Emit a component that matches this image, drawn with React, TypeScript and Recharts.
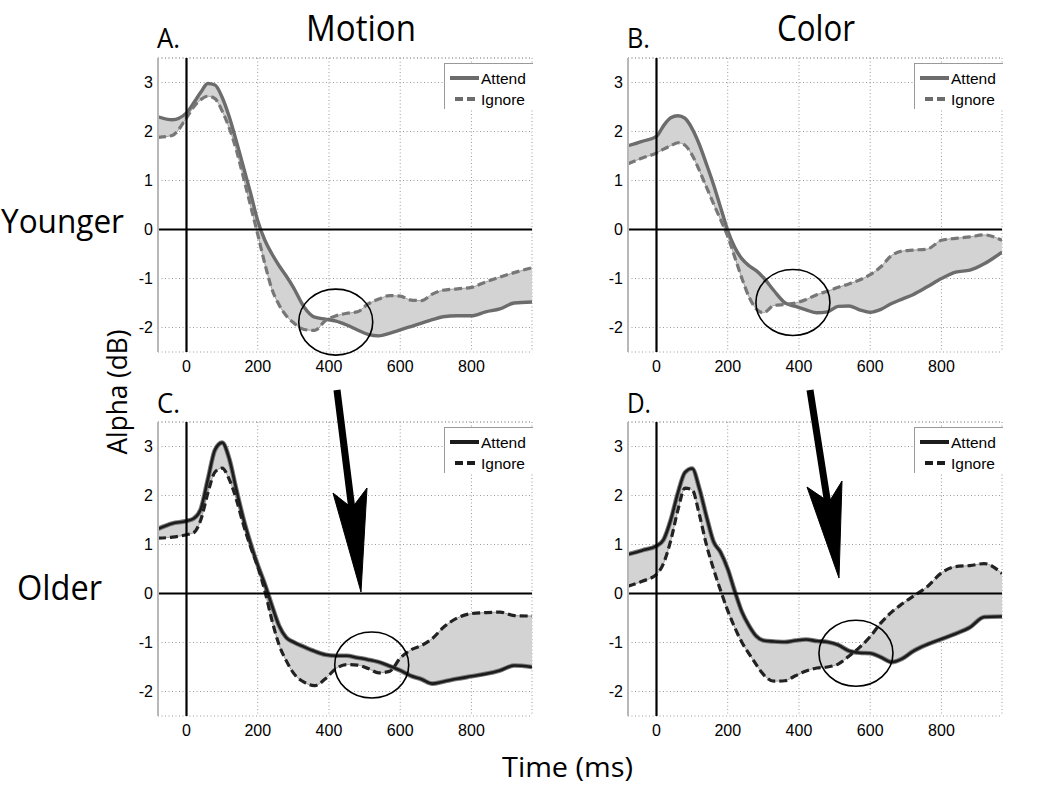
import React from "react";
import {
  ComposedChart, Line, Area, XAxis, YAxis, CartesianGrid,
  ReferenceLine, ReferenceDot, Legend,
} from "recharts";

// sample times (ms) shared by every panel
const times = [
  -80, -40, 0, 20, 40, 60, 80, 100, 120, 140, 160, 180, 200, 220, 240, 260, 280, 300, 330,
  360, 390, 420, 450, 480, 510, 540, 570, 600, 630, 660, 690, 720, 760, 800, 840, 880, 920, 970,
];

// A. younger / motion
const youngMotionAttend = [
  2.30, 2.24, 2.38, 2.58, 2.80, 2.98, 2.95, 2.70, 2.30, 1.80, 1.27, 0.74, 0.18, -0.22, -0.50, -0.74, -0.95, -1.18, -1.58,
  -1.79, -1.83, -1.87, -1.95, -2.05, -2.14, -2.17, -2.12, -2.05, -1.98, -1.91, -1.84, -1.78, -1.76, -1.76, -1.68, -1.62, -1.50, -1.48,
];
const youngMotionIgnore = [
  1.88, 1.92, 2.28, 2.50, 2.65, 2.72, 2.67, 2.42, 2.07, 1.62, 1.06, 0.48, -0.10, -0.70, -1.22, -1.54, -1.76, -1.90, -2.04,
  -2.06, -1.86, -1.76, -1.71, -1.68, -1.52, -1.42, -1.35, -1.36, -1.44, -1.45, -1.32, -1.24, -1.21, -1.18, -1.07, -0.97, -0.88, -0.78,
];

// B. younger / color
const youngColorAttend = [
  1.71, 1.80, 1.90, 2.12, 2.28, 2.32, 2.27, 2.06, 1.74, 1.34, 0.92, 0.45, -0.02, -0.37, -0.60, -0.74, -0.84, -0.98, -1.25,
  -1.49, -1.57, -1.64, -1.70, -1.68, -1.57, -1.56, -1.64, -1.69, -1.63, -1.51, -1.42, -1.33, -1.17, -1.00, -0.87, -0.83, -0.70, -0.46,
];
const youngColorIgnore = [
  1.34, 1.46, 1.56, 1.64, 1.71, 1.77, 1.72, 1.52, 1.21, 0.87, 0.53, 0.20, -0.14, -0.57, -1.00, -1.38, -1.62, -1.70, -1.55,
  -1.53, -1.50, -1.43, -1.33, -1.26, -1.18, -1.11, -1.03, -0.92, -0.76, -0.53, -0.44, -0.42, -0.40, -0.22, -0.18, -0.15, -0.11, -0.22,
];

// C. older / motion
const oldMotionAttend = [
  1.32, 1.43, 1.48, 1.53, 1.72, 2.33, 2.93, 3.08, 2.75, 2.12, 1.52, 1.02, 0.58, 0.19, -0.25, -0.66, -0.90, -0.99, -1.09,
  -1.18, -1.25, -1.27, -1.27, -1.31, -1.35, -1.40, -1.48, -1.57, -1.68, -1.75, -1.84, -1.80, -1.74, -1.69, -1.64, -1.57, -1.47, -1.50,
];
const oldMotionIgnore = [
  1.13, 1.15, 1.20, 1.24, 1.50, 2.05, 2.48, 2.56, 2.33, 1.92, 1.40, 0.95, 0.55, 0.05, -0.55, -1.05, -1.37, -1.62, -1.81,
  -1.88, -1.74, -1.53, -1.45, -1.46, -1.53, -1.62, -1.59, -1.32, -1.15, -1.06, -0.92, -0.70, -0.50, -0.41, -0.39, -0.38, -0.45, -0.46,
];

// D. older / color
const oldColorAttend = [
  0.80, 0.88, 0.97, 1.10, 1.50, 2.05, 2.47, 2.55, 2.15, 1.58, 1.06, 0.84, 0.50, 0.04, -0.38, -0.66, -0.87, -0.96, -0.98,
  -0.99, -0.96, -0.94, -0.97, -0.99, -1.05, -1.17, -1.21, -1.22, -1.30, -1.40, -1.33, -1.18, -1.04, -0.93, -0.82, -0.69, -0.48, -0.47,
];
const oldColorIgnore = [
  0.15, 0.25, 0.39, 0.62, 1.08, 1.70, 2.15, 2.12, 1.62, 1.00, 0.50, 0.06, -0.35, -0.70, -1.00, -1.23, -1.45, -1.65, -1.79,
  -1.78, -1.68, -1.58, -1.52, -1.50, -1.44, -1.28, -1.10, -0.88, -0.60, -0.38, -0.21, -0.06, 0.14, 0.42, 0.55, 0.57, 0.61, 0.41,
];

const xTicks = [0, 200, 400, 600, 800];
const yTicks = [-2, -1, 0, 1, 2, 3];
const xDomain = [-80, 970];
const yDomain = [-2.5, 3.5];

const tickFont = { fontFamily: "Liberation Sans, Arial", fontSize: 16, fill: "#000" };
const titleFont = "Open Sans, Noto Sans, sans-serif";

function buildRows(attend: number[], ignore: number[]) {
  return times.map((t, i) => ({ t, attend: attend[i], ignore: ignore[i], band: [ignore[i], attend[i]] }));
}

function PanelLegend({ color }: { color: string }) {
  return (
    <div style={{ width: 88, height: 45, borderLeft: "1px solid #9a9a9a", borderTop: "1px solid #9a9a9a", background: "#fff" }}>
      <svg width={88} height={45} style={{ display: "block" }}>
        <line x1={5} x2={34} y1={14} y2={14} stroke={color} strokeWidth={4} />
        <text x={36} y={19.5} fontFamily="Liberation Sans, Arial" fontSize={15.5} fill="#000">Attend</text>
        <line x1={10} x2={34} y1={35} y2={35} stroke={color} strokeWidth={4} strokeDasharray="8 4" />
        <text x={36} y={40.5} fontFamily="Liberation Sans, Arial" fontSize={15.5} fill="#000">Ignore</text>
      </svg>
    </div>
  );
}

interface PanelProps {
  attend: number[];
  ignore: number[];
  dark: boolean;
  circle: { x: number; y: number };
  left: number;
  top: number;
}

function Panel({ attend, ignore, dark, circle, left, top }: PanelProps) {
  const data = buildRows(attend, ignore);
  const lineColor = dark ? "#1c1c1c" : "#6c6c6c";
  return (
    <div style={{ position: "absolute", left, top }}>
      <ComposedChart width={410} height={326} data={data} margin={{ top: 2, right: 4, left: 0, bottom: 0 }}>
        <CartesianGrid stroke="#9a9a9a" strokeDasharray="1 2.5" />
        <XAxis
          type="number"
          dataKey="t"
          domain={xDomain}
          ticks={xTicks}
          allowDataOverflow
          axisLine={false}
          tickLine={false}
          tickSize={0}
          tickMargin={9}
          height={30}
          tick={tickFont}
        />
        <YAxis
          type="number"
          domain={yDomain}
          ticks={yTicks}
          allowDataOverflow
          axisLine={{ stroke: "#b8b8b8", strokeWidth: 2 }}
          tickLine={false}
          tickSize={0}
          tickMargin={5}
          width={32}
          tick={tickFont}
        />
        <ReferenceLine y={3.5} stroke="#9a9a9a" strokeDasharray="1 2.5" />
        <Area
          dataKey="band"
          type="monotone"
          fill="#d3d3d3"
          fillOpacity={1}
          stroke="#8c8c8c"
          strokeWidth={0.8}
          isAnimationActive={false}
        />
        {dark && (
          <Line dataKey="attend" type="monotone" stroke="#7a7a7a" strokeWidth={4.6} dot={false} activeDot={false} isAnimationActive={false} legendType="none" />
        )}
        <Line
          dataKey="attend"
          type="monotone"
          stroke={lineColor}
          strokeWidth={dark ? 2.6 : 3.4}
          dot={false}
          activeDot={false}
          isAnimationActive={false}
        />
        <Line
          dataKey="ignore"
          type="monotone"
          stroke={dark ? "#222" : "#777"}
          strokeWidth={3.2}
          strokeDasharray="8 4"
          dot={false}
          activeDot={false}
          isAnimationActive={false}
        />
        <ReferenceLine y={0} stroke="#000" strokeWidth={2} />
        <ReferenceLine x={0} stroke="#000" strokeWidth={2.2} />
        <ReferenceDot
          x={circle.x}
          y={circle.y}
          r={35}
          shape={(p: any) => (
            <ellipse cx={p.cx} cy={p.cy} rx={37} ry={33} fill="none" stroke="#000" strokeWidth={1.6} />
          )}
        />
        <Legend
          layout="horizontal"
          verticalAlign="middle"
          align="center"
          content={() => <PanelLegend color={dark ? "#1c1c1c" : "#6c6c6c"} />}
          wrapperStyle={{ top: 7, right: 4, left: "auto", width: 88, height: 45 }}
        />
      </ComposedChart>
    </div>
  );
}

export default function App() {
  return (
    <div style={{ position: "absolute", left: 0, top: 0, width: 1050, height: 788, background: "#fff", overflow: "hidden" }}>
      <Panel attend={youngMotionAttend} ignore={youngMotionIgnore} dark={false} circle={{ x: 419, y: -1.89 }} left={126} top={56} />
      <Panel attend={youngColorAttend} ignore={youngColorIgnore} dark={false} circle={{ x: 383, y: -1.49 }} left={596} top={56} />
      <Panel attend={oldMotionAttend} ignore={oldMotionIgnore} dark={true} circle={{ x: 520, y: -1.46 }} left={126} top={420} />
      <Panel attend={oldColorAttend} ignore={oldColorIgnore} dark={true} circle={{ x: 560, y: -1.22 }} left={596} top={420} />

      <svg width={1050} height={788} style={{ position: "absolute", left: 0, top: 0, pointerEvents: "none" }}>
        <g fontFamily={titleFont} fill="#000">
          <text x={306} y={41} fontSize={36} textLength={110} lengthAdjust="spacingAndGlyphs">Motion</text>
          <text x={777} y={41} fontSize={36} textLength={78} lengthAdjust="spacingAndGlyphs">Color</text>
          <text x={157} y={48} fontSize={28} textLength={23} lengthAdjust="spacingAndGlyphs">A.</text>
          <text x={627} y={48} fontSize={28} textLength={23} lengthAdjust="spacingAndGlyphs">B.</text>
          <text x={157} y={413} fontSize={28} textLength={23} lengthAdjust="spacingAndGlyphs">C.</text>
          <text x={627} y={413} fontSize={28} textLength={24} lengthAdjust="spacingAndGlyphs">D.</text>
          <text x={1} y={233} fontSize={33} textLength={123} lengthAdjust="spacingAndGlyphs">Younger</text>
          <text x={17} y={600} fontSize={34} textLength={85} lengthAdjust="spacingAndGlyphs">Older</text>
          <text x={502} y={777} fontSize={28} textLength={131} lengthAdjust="spacingAndGlyphs">Time (ms)</text>
          <text
            x={127}
            y={392}
            fontSize={28}
            textAnchor="middle"
            textLength={125}
            lengthAdjust="spacingAndGlyphs"
            transform="rotate(-90 127 392)"
          >
            Alpha (dB)
          </text>
        </g>
        <g fill="#000" stroke="#000">
          <line x1={337} y1={390} x2={352} y2={510} strokeWidth={7} />
          <polygon points="333,493 352,508 367,488 361,592" strokeWidth={1} />
          <line x1={810} y1={390} x2={828} y2={505} strokeWidth={7} />
          <polygon points="807,487 829,502 842,481 839,578" strokeWidth={1} />
        </g>
      </svg>
    </div>
  );
}
